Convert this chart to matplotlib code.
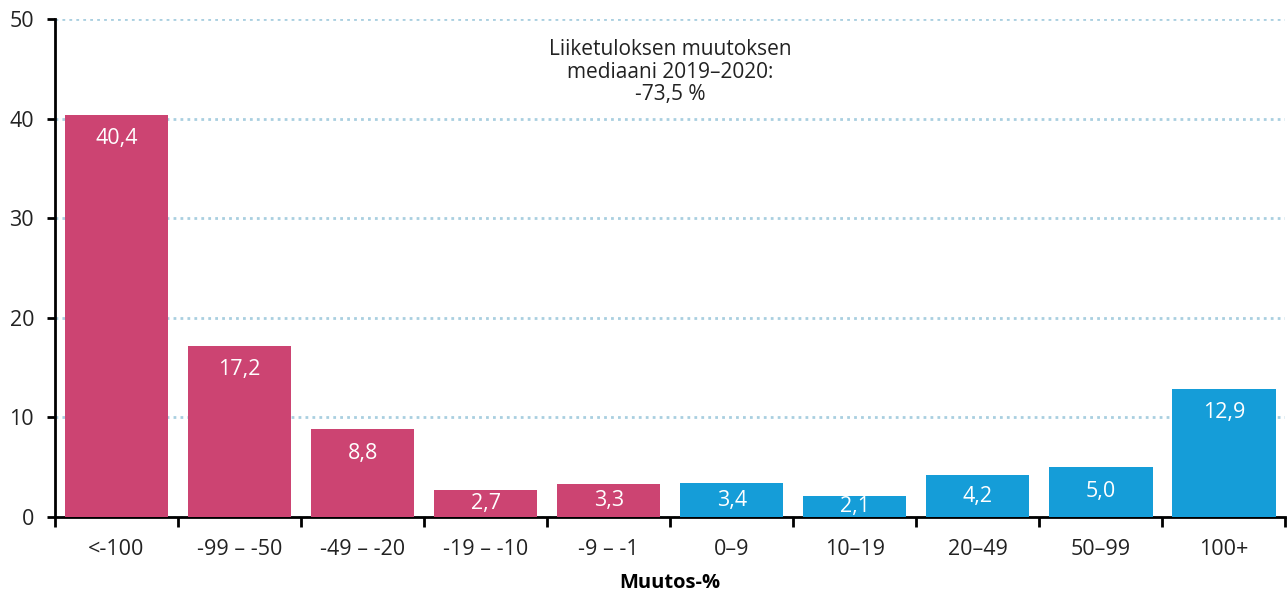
import numpy as np
import matplotlib.pyplot as plt

categories = ['<-100', '-99 – -50', '-49 – -20', '-19 – -10', '-9 – -1',
              '0–9', '10–19', '20–49', '50–99', '100+']
values = [40.4, 17.2, 8.8, 2.7, 3.3, 3.4, 2.1, 4.2, 5.0, 12.9]
labels = ['40,4', '17,2', '8,8', '2,7', '3,3', '3,4', '2,1', '4,2', '5,0', '12,9']
yticks = [0, 10, 20, 30, 40, 50]

PINK = '#cc4472'
BLUE = '#159dd8'

plt.rcParams['font.family'] = ['Open Sans', 'DejaVu Sans']


def main():
    fig = plt.figure(figsize=(12.88, 5.94), dpi=100)
    ax = fig.add_axes([0.0427, 0.1296, 0.9553, 0.8384])

    x = np.arange(len(values))
    colors = [PINK if v < 5 else BLUE for v in range(len(values))]
    ax.bar(x, values, width=0.84, color=colors, zorder=3)

    for xi, v, lab in zip(x, values, labels):
        ypos = max(v - 2.4, v / 2)
        ax.text(xi, ypos, lab, ha='center', va='center', color='white',
                fontsize=15.5, zorder=4)

    ax.set_xlim(-0.5, len(values) - 0.5)
    ax.set_ylim(0, 50)
    ax.set_yticks(yticks)
    ax.yaxis.grid(True, linestyle=(0, (1, 1.5)), color='#a9cfe0', linewidth=2)
    ax.set_axisbelow(True)

    ax.set_xticks(x)
    ax.set_xticklabels(categories, fontsize=15.5, color='#222222')
    ax.tick_params(axis='x', length=0, pad=16)
    ax.set_xticks(np.arange(len(values) + 1) - 0.5, minor=True)
    ax.tick_params(axis='x', which='minor', length=7, width=2, direction='out')
    ax.tick_params(axis='y', length=6, width=2, labelsize=15.5,
                   labelcolor='#222222', pad=9)

    for s in ['top', 'right']:
        ax.spines[s].set_visible(False)
    for s in ['left', 'bottom']:
        ax.spines[s].set_linewidth(2)

    ax.set_xlabel('Muutos-%', fontsize=14.5, fontweight='bold', labelpad=9)

    ax.text(0.5, 0.96, 'Liiketuloksen muutoksen\nmediaani 2019–2020:\n-73,5 %',
            transform=ax.transAxes, ha='center', va='top', fontsize=15,
            color='#222222', linespacing=1.1)

    fig.savefig('out.png', dpi=100)


if __name__ == '__main__':
    main()
